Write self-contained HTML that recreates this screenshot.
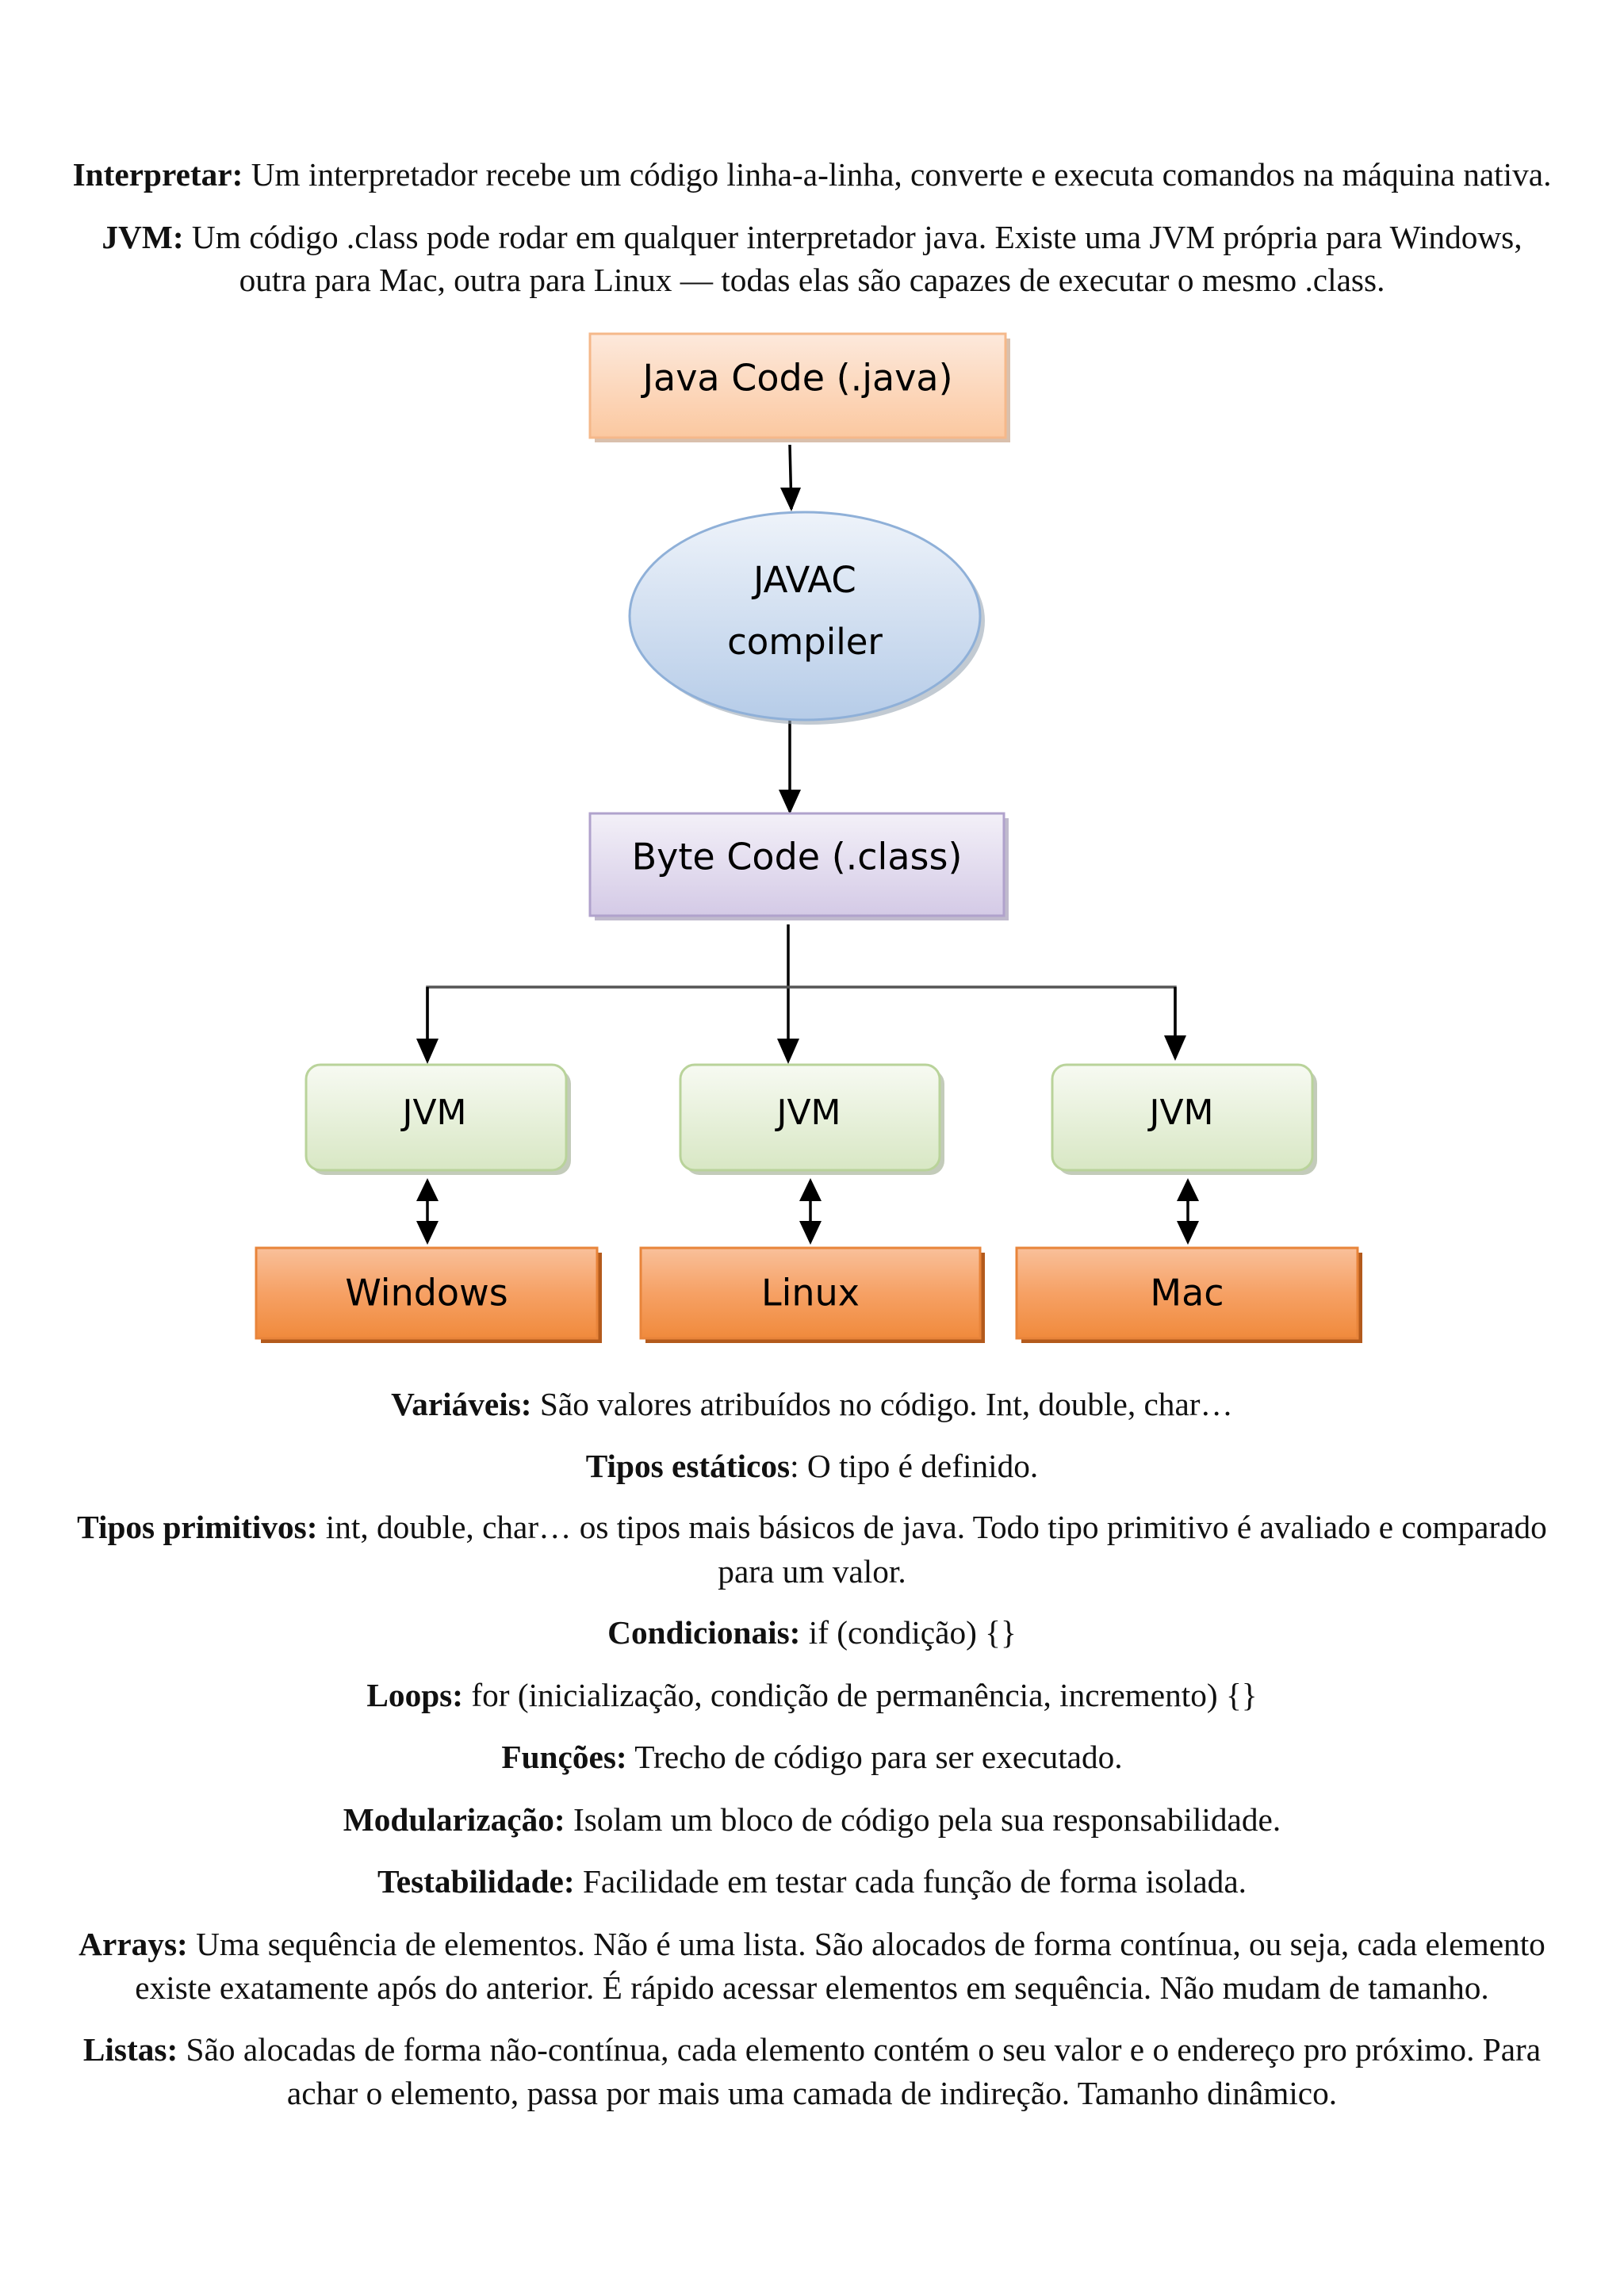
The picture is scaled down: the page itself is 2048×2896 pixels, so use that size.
<!DOCTYPE html>
<html><head><meta charset="utf-8"><style>
body{margin:0;width:2048px;height:2896px;background:#fff;position:relative;overflow:hidden}
.t{position:absolute;left:30px;width:1988px;text-align:center;font-family:"Liberation Serif",serif;font-size:41.3px;line-height:56px;color:#111;white-space:nowrap}
svg{position:absolute;left:0;top:0}
</style></head><body>
<div class="t" style="top:192px"><b>Interpretar:</b> Um interpretador recebe um código linha-a-linha, converte e executa comandos na máquina nativa.</div>
<div class="t" style="top:271px"><b>JVM:</b> Um código .class pode rodar em qualquer interpretador java. Existe uma JVM própria para Windows,</div>
<div class="t" style="top:325px">outra para Mac, outra para Linux — todas elas são capazes de executar o mesmo .class.</div>

<svg width="2048" height="2896" font-family="DejaVu Sans, sans-serif">
<defs>
<linearGradient id="gO" x1="0" y1="0" x2="0" y2="1"><stop offset="0" stop-color="#fde9dc"/><stop offset="1" stop-color="#fbc8a0"/></linearGradient>
<linearGradient id="gB" x1="0" y1="0" x2="0" y2="1"><stop offset="0" stop-color="#eef3fa"/><stop offset="1" stop-color="#b6cce8"/></linearGradient>
<linearGradient id="gP" x1="0" y1="0" x2="0" y2="1"><stop offset="0" stop-color="#f3f0f8"/><stop offset="1" stop-color="#d4cae6"/></linearGradient>
<linearGradient id="gG" x1="0" y1="0" x2="0" y2="1"><stop offset="0" stop-color="#f7faf2"/><stop offset="1" stop-color="#d8e7c4"/></linearGradient>
<linearGradient id="gR" x1="0" y1="0" x2="0" y2="1"><stop offset="0" stop-color="#f9c09a"/><stop offset="0.5" stop-color="#f6a165"/><stop offset="1" stop-color="#f08a3c"/></linearGradient>
</defs>
<g stroke="#000" stroke-width="3.5" fill="none">
<line x1="996" y1="561" x2="998" y2="642"/>
<line x1="996" y1="900" x2="996" y2="1024"/>
<line x1="994" y1="1166" x2="994" y2="1338"/>
<polyline points="539,1338 539,1245 1482,1245 1482,1334" stroke="#555"/>
<line x1="539" y1="1245" x2="539" y2="1338"/>
<line x1="1482" y1="1245" x2="1482" y2="1334"/>
<line x1="539" y1="1490" x2="539" y2="1564"/>
<line x1="1022" y1="1490" x2="1022" y2="1564"/>
<line x1="1498" y1="1490" x2="1498" y2="1564"/>
</g>
<g fill="#000">
<path d="M984,615 L1010,615 L998,645z"/>
<path d="M982,996 L1010,996 L996,1027z"/>
<path d="M980,1310 L1008,1310 L994,1342z"/>
<path d="M525,1310 L553,1310 L539,1342z"/>
<path d="M1468,1306 L1496,1306 L1482,1338z"/>
<path d="M525,1515 L553,1515 L539,1486z M525,1540 L553,1540 L539,1570z"/>
<path d="M1008,1515 L1036,1515 L1022,1486z M1008,1540 L1036,1540 L1022,1570z"/>
<path d="M1484,1515 L1512,1515 L1498,1486z M1484,1540 L1512,1540 L1498,1570z"/>
</g>
<rect x="750" y="427" width="524" height="131" fill="#c9a58a" opacity="0.7"/>
<rect x="744" y="421" width="524" height="131" fill="url(#gO)" stroke="#f5b88a" stroke-width="3"/>
<text x="1006" y="480" font-size="46" text-anchor="middle" dominant-baseline="middle">Java Code (.java)</text>
<ellipse cx="1021" cy="783" rx="221" ry="131" fill="#9aa6b4" opacity="0.6"/>
<ellipse cx="1015" cy="777" rx="221" ry="131" fill="url(#gB)" stroke="#8fb0d8" stroke-width="3"/>
<text x="1015" y="735" font-size="45" text-anchor="middle" dominant-baseline="middle">JAVAC</text>
<text x="1015" y="813" font-size="45" text-anchor="middle" dominant-baseline="middle">compiler</text>
<rect x="750" y="1032" width="522" height="129" fill="#a59cb8" opacity="0.7"/>
<rect x="744" y="1026" width="522" height="129" fill="url(#gP)" stroke="#b0a2cc" stroke-width="3"/>
<text x="1005" y="1084" font-size="46" text-anchor="middle" dominant-baseline="middle">Byte Code (.class)</text>
<g stroke="#b9d39a" stroke-width="3">
<rect x="392" y="1349" width="328" height="133" rx="18" fill="#aab59c" stroke="none" opacity="0.7"/>
<rect x="386" y="1343" width="328" height="133" rx="18" fill="url(#gG)"/>
<rect x="864" y="1349" width="327" height="133" rx="18" fill="#aab59c" stroke="none" opacity="0.7"/>
<rect x="858" y="1343" width="327" height="133" rx="18" fill="url(#gG)"/>
<rect x="1333" y="1349" width="328" height="133" rx="18" fill="#aab59c" stroke="none" opacity="0.7"/>
<rect x="1327" y="1343" width="328" height="133" rx="18" fill="url(#gG)"/>
</g>
<g font-size="44" text-anchor="middle" dominant-baseline="middle">
<text x="548" y="1406">JVM</text><text x="1020" y="1406">JVM</text><text x="1490" y="1406">JVM</text>
</g>
<g stroke="#e8843a" stroke-width="3">
<rect x="329" y="1580" width="430" height="114" fill="#b35a1c" stroke="none"/>
<rect x="323" y="1574" width="430" height="114" fill="url(#gR)"/>
<rect x="814" y="1580" width="428" height="114" fill="#b35a1c" stroke="none"/>
<rect x="808" y="1574" width="428" height="114" fill="url(#gR)"/>
<rect x="1288" y="1580" width="430" height="114" fill="#b35a1c" stroke="none"/>
<rect x="1282" y="1574" width="430" height="114" fill="url(#gR)"/>
</g>
<g font-size="46" text-anchor="middle" dominant-baseline="middle">
<text x="538" y="1634">Windows</text><text x="1022" y="1634">Linux</text><text x="1497" y="1634">Mac</text>
</g>
</svg>

<div class="t" style="top:1743px"><b>Variáveis:</b> São valores atribuídos no código. Int, double, char…</div>
<div class="t" style="top:1821px"><b>Tipos estáticos</b>: O tipo é definido.</div>
<div class="t" style="top:1898px"><b>Tipos primitivos:</b> int, double, char… os tipos mais básicos de java. Todo tipo primitivo é avaliado e comparado</div>
<div class="t" style="top:1954px">para um valor.</div>
<div class="t" style="top:2031px"><b>Condicionais:</b> if (condição) {}</div>
<div class="t" style="top:2110px"><b>Loops:</b> for (inicialização, condição de permanência, incremento) {}</div>
<div class="t" style="top:2188px"><b>Funções:</b> Trecho de código para ser executado.</div>
<div class="t" style="top:2267px"><b>Modularização:</b> Isolam um bloco de código pela sua responsabilidade.</div>
<div class="t" style="top:2345px"><b>Testabilidade:</b> Facilidade em testar cada função de forma isolada.</div>
<div class="t" style="top:2424px"><b>Arrays:</b> Uma sequência de elementos. Não é uma lista. São alocados de forma contínua, ou seja, cada elemento</div>
<div class="t" style="top:2479px">existe exatamente após do anterior. É rápido acessar elementos em sequência. Não mudam de tamanho.</div>
<div class="t" style="top:2557px"><b>Listas:</b> São alocadas de forma não-contínua, cada elemento contém o seu valor e o endereço pro próximo. Para</div>
<div class="t" style="top:2612px">achar o elemento, passa por mais uma camada de indireção. Tamanho dinâmico.</div>
</body></html>
